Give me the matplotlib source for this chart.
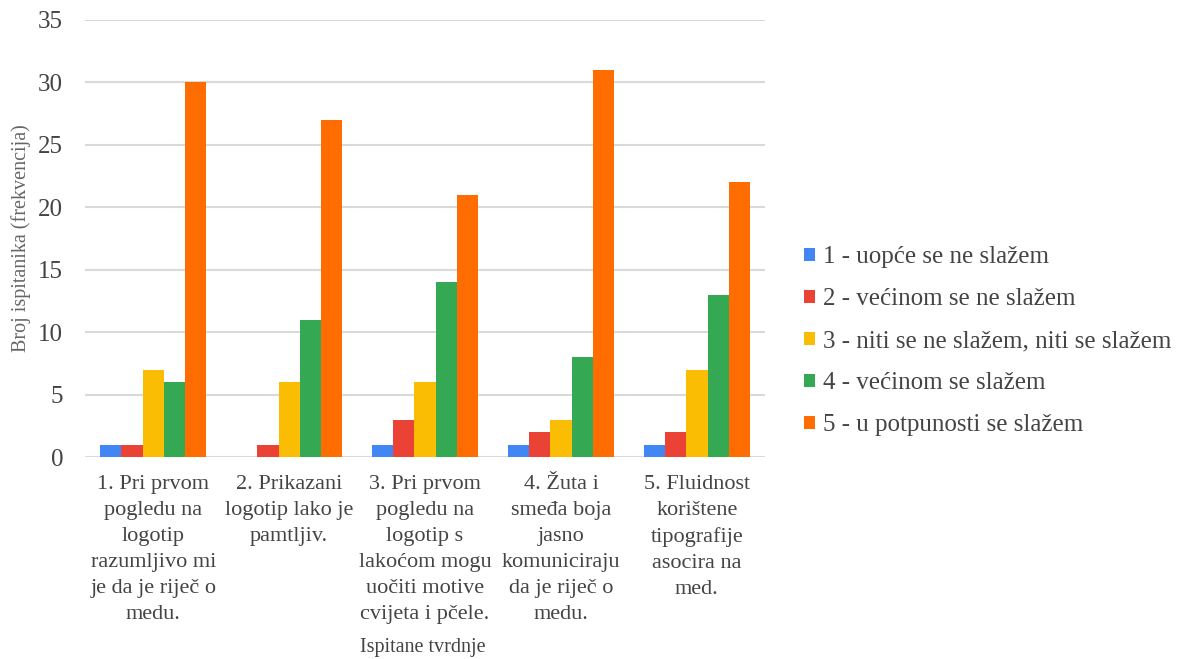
import numpy as np
import matplotlib.pyplot as plt

plt.rcParams['font.family'] = ['Liberation Serif', 'DejaVu Serif']

categories = [
    "1. Pri prvom\npogledu na\nlogotip\nrazumljivo mi\nje da je riječ o\nmedu.",
    "2. Prikazani\nlogotip lako je\npamtljiv.",
    "3. Pri prvom\npogledu na\nlogotip s\nlakoćom mogu\nuočiti motive\ncvijeta i pčele.",
    "4. Žuta i\nsmeđa boja\njasno\nkomuniciraju\nda je riječ o\nmedu.",
    "5. Fluidnost\nkorištene\ntipografije\nasocira na\nmed.",
]
series = [
    "1 - uopće se ne slažem",
    "2 - većinom se ne slažem",
    "3 - niti se ne slažem, niti se slažem",
    "4 - većinom se slažem",
    "5 - u potpunosti se slažem",
]
s1 = [1, 0, 1, 1, 1]
s2 = [1, 1, 3, 2, 2]
s3 = [7, 6, 6, 3, 7]
s4 = [6, 11, 14, 8, 13]
s5 = [30, 27, 21, 31, 22]
values = [s1, s2, s3, s4, s5]
colors = ["#4285F4", "#EA4335", "#FBBC04", "#34A853", "#FF6D01"]

fig = plt.figure(figsize=(11.84, 6.59), dpi=100)
ax = fig.add_axes([0.072, 0.3065, 0.574, 0.6632])

x = np.arange(len(categories))
n = len(series)
group_w = 0.78
bw = group_w / n
for i, (name, vals, c) in enumerate(zip(series, values, colors)):
    ax.bar(x - group_w / 2 + bw * (i + 0.5), vals, bw, color=c, label=name, zorder=3)

ax.set_xlim(-0.5, len(categories) - 0.5)
ax.set_ylim(0, 35)
ax.set_yticks(range(0, 36, 5))
ax.yaxis.grid(True, color="#d9d9d9", linewidth=1.5, zorder=0)
for s in ax.spines.values():
    s.set_visible(False)
ax.tick_params(axis="both", length=0, colors="#444444")
ax.tick_params(axis="y", pad=16, labelsize=18)
ax.set_xticks(x)
ax.set_xticklabels(categories, fontsize=16, linespacing=1.5)
ax.tick_params(axis="x", pad=13)

ax.set_ylabel("Broj ispitanika (frekvencija)", fontsize=14.5, color="#666666")
ax.yaxis.set_label_coords(-0.080, 0.5)
fig.text(0.357, 0.018, "Ispitane tvrdnje", fontsize=14.5, color="#444444",
         ha="center", va="center")

leg = fig.legend(loc="center left", bbox_to_anchor=(0.660, 0.482), frameon=False,
                 fontsize=18, handlelength=0.45, handleheight=0.45, handletextpad=0.3,
                 labelspacing=0.8, labelcolor="#444444")

fig.savefig("out.png", dpi=100)
